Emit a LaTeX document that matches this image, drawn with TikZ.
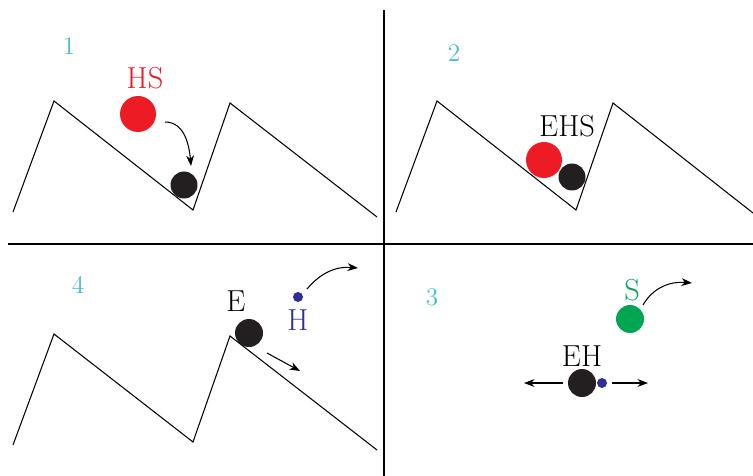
\documentclass[tikz,border=0pt]{standalone}
\usepackage{amssymb}
\usepackage{amsmath}
\usepackage{color}
\usepackage{tikz}
\usetikzlibrary{arrows.meta}

\definecolor{hsred}{RGB}{237,28,36}
\definecolor{hblue}{RGB}{46,49,146}
\definecolor{sgreen}{RGB}{0,166,81}
\definecolor{numcyan}{RGB}{70,190,200}
\definecolor{ball}{RGB}{35,31,32}

\tikzset{
  ballnode/.style = {circle, fill=#1, inner sep=0pt},
  numlabel/.style = {text=numcyan, font=\Large},
  namelabel/.style = {font=\LARGE},
  move/.style = {-{Stealth[length=6pt,width=4.5pt]}, semithick}
}

\begin{document}
\begin{tikzpicture}[x=0.02cm, y=-0.02cm]
\useasboundingbox (0,0) rectangle (753,476);
% quadrant lines
\draw[semithick] (384,10) -- (384,476)
(8,244) -- (753,244);
% energy landscapes
\draw[semithick] (13,212) -- (54,101) -- (193,210) -- (230,103) -- (377,217);
\draw[semithick] (396,212) -- (437,101) -- (576,210) -- (613,103) -- (753,213);
\draw[semithick] (13,445) -- (54,334) -- (193,442) -- (230,336) -- (377,450);
% step numbers
\node[numlabel] (n1) at (69,46) {1};
\node[numlabel] (n2) at (454,53) {2};
\node[numlabel] (n4) at (78,285) {4};
\node[numlabel] (n3) at (432,297) {3};
% 1: substrate approaches
\node[namelabel, text=hsred] (hs) at (145,78) {HS};
\node[ballnode=hsred, minimum size=36*0.02cm] (hsball) at (138,114) {};
\node[ballnode=ball, minimum size=27*0.02cm] (e1) at (184,185) {};
\coordinate (a1s) at (165,122);
\coordinate (a1e) at (191,166);
\draw[move] (a1s) to[out=0, in=95] (a1e);
% 2: bound complex
\node[namelabel] (ehs) at (567,126) {EHS};
\node[ballnode=hsred, minimum size=36*0.02cm] (hs2) at (544,160) {};
\node[ballnode=ball, minimum size=27*0.02cm] (e2) at (572,177) {};
% 3: product leaves
\node[namelabel, text=sgreen] (s) at (632,290) {S};
\node[ballnode=sgreen, minimum size=28*0.02cm] (sball) at (630,319) {};
\coordinate (a3s) at (643,305);
\coordinate (a3e) at (692,283);
\draw[move] (a3s) to[out=60, in=175] (a3e);
\node[namelabel] (eh) at (582,356) {EH};
\node[ballnode=ball, minimum size=28*0.02cm] (e3) at (582,383) {};
\node[ballnode=hblue, minimum size=10*0.02cm] (h3) at (602,383) {};
\coordinate (l3s) at (563,383);
\coordinate (l3) at (524,383);
\coordinate (r3s) at (612,383);
\coordinate (r3) at (648,383);
\draw[move] (l3s) -- (l3);
\draw[move] (r3s) -- (r3);
% 4: release
\node[namelabel] (e) at (236,301) {E};
\node[ballnode=ball, minimum size=28*0.02cm] (e4) at (249,333) {};
\coordinate (a4s) at (267,353);
\coordinate (a4e) at (300,371);
\draw[move] (a4s) -- (a4e);
\node[ballnode=hblue, minimum size=10*0.02cm] (h4) at (298,297) {};
\node[namelabel, text=hblue] (hlab) at (298,320) {H};
\coordinate (a5s) at (307,289);
\coordinate (a5e) at (358,268);
\draw[move] (a5s) to[out=50, in=175] (a5e);
\end{tikzpicture}
\end{document}
